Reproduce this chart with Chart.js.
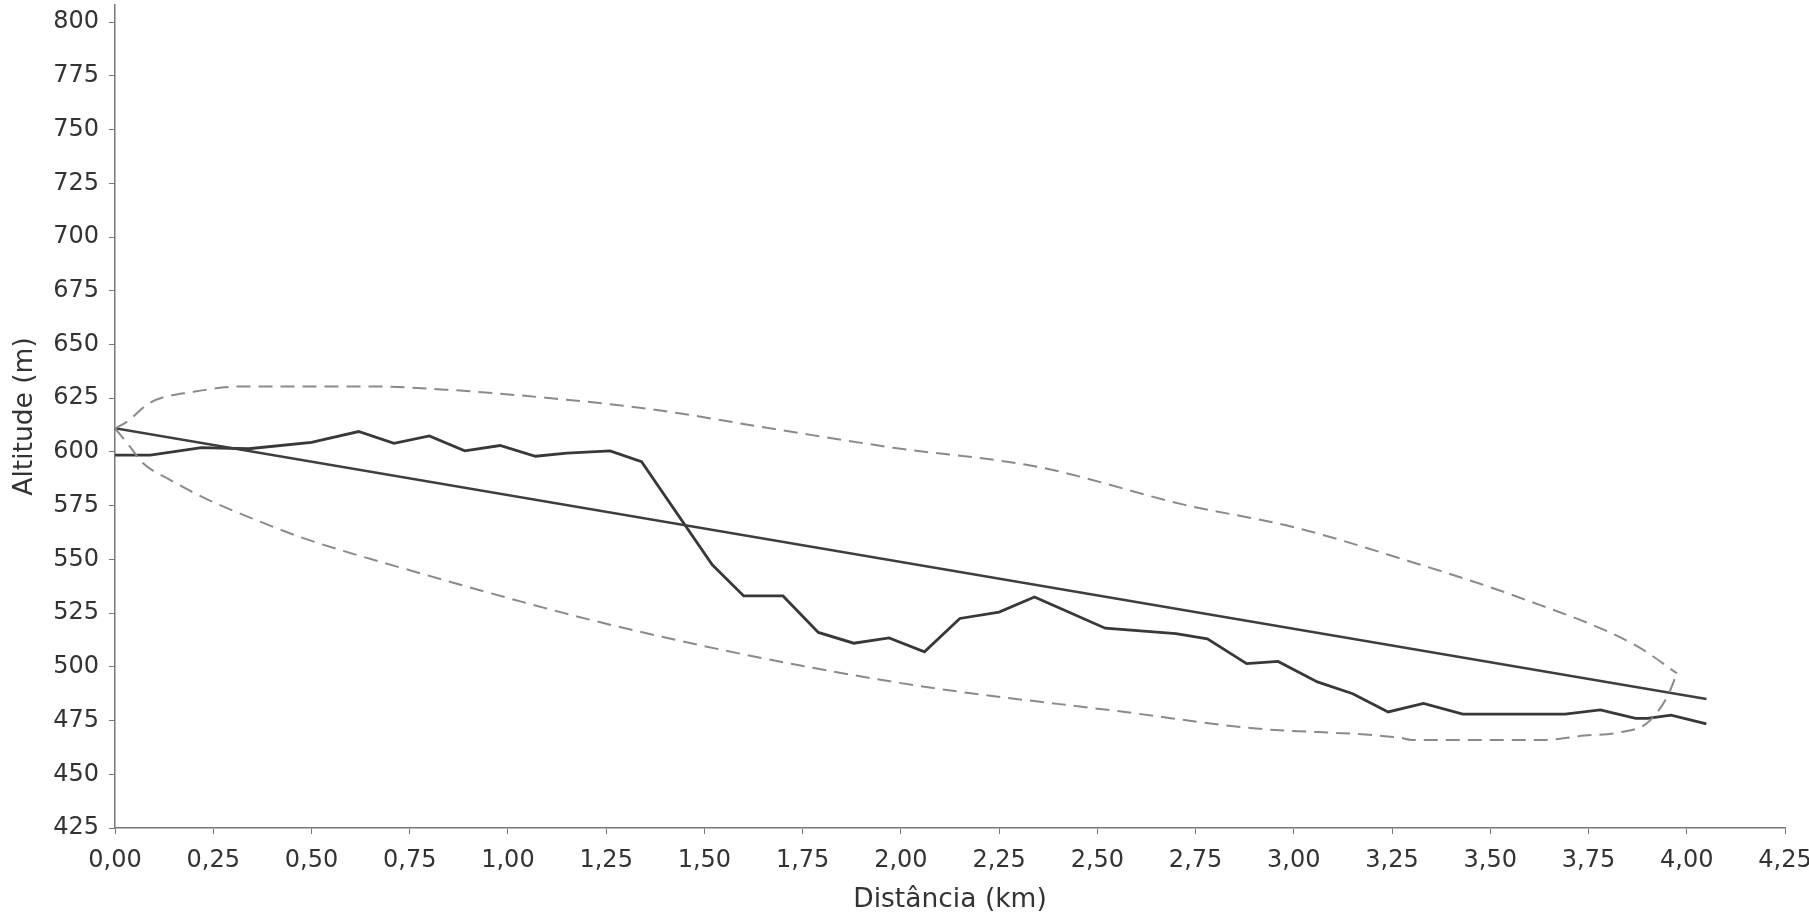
<!DOCTYPE html>
<html>
<head>
<meta charset="utf-8">
<script src="https://cdn.jsdelivr.net/npm/chart.js@4.4.1/dist/chart.umd.min.js"></script>
<style>
  html, body { margin: 0; background: #fff; }
  canvas { display: block; }
</style>
</head>
<body>
<canvas id="chart" width="1809" height="916"></canvas>
<script>
// altitude profile (km, m)
const profileKm = [0, 0.09, 0.22, 0.34, 0.50, 0.62, 0.71, 0.80, 0.89, 0.98, 1.07, 1.15, 1.26, 1.34,
  1.52, 1.60, 1.70, 1.79, 1.88, 1.97, 2.06, 2.15, 2.25, 2.34, 2.52, 2.70, 2.78, 2.88, 2.96,
  3.06, 3.15, 3.24, 3.33, 3.43, 3.69, 3.78, 3.87, 3.90, 3.96, 4.05];
const profileAlt = [598.5, 598.5, 602, 601.5, 604.5, 609.5, 604, 607.5, 600.5, 603, 598, 599.5, 600.5, 595.5,
  547.5, 533, 533, 516, 511, 513.5, 507, 522.5, 525.5, 532.5, 518, 515.5, 513, 501.5, 502.5,
  493, 487.5, 479, 483, 478, 478, 480, 476, 476, 477.5, 473.5];

// trend line
const trendKm = [0, 4.05];
const trendAlt = [611, 485];

// dashed envelope, upper and lower halves
const upperKm = [0, 0.03, 0.09, 0.20, 0.33, 0.65, 0.84, 1.05, 1.36, 1.70, 1.98, 2.35, 2.72, 3.00, 3.27, 3.57, 3.87, 3.975];
const upperAlt = [611, 614, 623, 628, 630.5, 630.5, 629, 626, 620, 610, 602, 593, 575.5, 565, 550.5, 532.5, 510, 497];
const lowerKm = [0, 0.04, 0.07, 0.14, 0.24, 0.35, 0.47, 0.73, 1.32, 1.98, 2.59, 2.89, 3.27, 3.30, 3.64, 3.74, 3.83, 3.90, 3.95, 3.975];
const lowerAlt = [611, 602, 595, 587, 577.5, 569, 560.5, 546, 517, 493, 478.5, 471.5, 467, 466, 466, 468, 469.5, 474, 486, 497];

const xTickValues = [0, 0.25, 0.5, 0.75, 1, 1.25, 1.5, 1.75, 2, 2.25, 2.5, 2.75, 3, 3.25, 3.5, 3.75, 4, 4.25];
const yTickValues = [425, 450, 475, 500, 525, 550, 575, 600, 625, 650, 675, 700, 725, 750, 775, 800];

function pts(xs, ys) {
  return xs.map((x, i) => ({ x: x, y: ys[i] }));
}

const dashedStyle = {
  borderColor: '#8a8a8a',
  borderWidth: 2,
  borderDash: [14, 8],
  pointRadius: 0,
  fill: false,
  cubicInterpolationMode: 'monotone'
};

const data = {
  datasets: [
    Object.assign({ data: pts(upperKm, upperAlt) }, dashedStyle),
    Object.assign({ data: pts(lowerKm, lowerAlt) }, dashedStyle),
    {
      data: pts(trendKm, trendAlt),
      borderColor: '#3e3e3e',
      borderWidth: 2.5,
      pointRadius: 0,
      tension: 0
    },
    {
      data: pts(profileKm, profileAlt),
      borderColor: '#383838',
      borderWidth: 2.8,
      pointRadius: 0,
      tension: 0
    }
  ]
};

const tickFont = { family: 'DejaVu Sans', size: 24 };
const titleFont = { family: 'DejaVu Sans', size: 26.5 };

const config = {
  type: 'line',
  data: data,
  options: {
    responsive: false,
    animation: false,
    layout: { padding: { top: 5, right: 24, left: 0, bottom: 0 } },
    plugins: { legend: { display: false }, tooltip: { enabled: false } },
    scales: {
      x: {
        type: 'linear',
        min: 0,
        max: 4.25,
        afterBuildTicks: scale => { scale.ticks = xTickValues.map(v => ({ value: v })); },
        afterFit: scale => { scale.height = 88; scale.paddingLeft = 0; scale.paddingRight = 0; },
        grid: { display: true, drawOnChartArea: false, drawTicks: true, tickLength: 6, color: '#777' },
        border: { display: true, color: '#777', width: 1.5 },
        ticks: {
          font: tickFont,
          color: '#333',
          padding: 12,
          maxRotation: 0,
          autoSkip: false,
          callback: v => v.toFixed(2).replace('.', ',')
        },
        title: {
          display: true,
          text: 'Distância (km)',
          font: titleFont,
          color: '#333',
          padding: { top: 0, bottom: 0 }
        }
      },
      y: {
        min: 425,
        max: 808,
        afterBuildTicks: scale => { scale.ticks = yTickValues.map(v => ({ value: v })); },
        afterFit: scale => { scale.width = 115; scale.paddingTop = 0; scale.paddingBottom = 0; },
        grid: { display: true, drawOnChartArea: false, drawTicks: true, tickLength: 6, color: '#777' },
        border: { display: true, color: '#777', width: 1.5 },
        ticks: {
          font: tickFont,
          color: '#333',
          padding: 10,
          autoSkip: false,
          callback: v => String(v)
        },
        title: {
          display: true,
          text: 'Altitude (m)',
          font: titleFont,
          color: '#333',
          padding: { top: 9, bottom: 0 }
        }
      }
    }
  }
};

new Chart(document.getElementById('chart'), config);
</script>
</body>
</html>
